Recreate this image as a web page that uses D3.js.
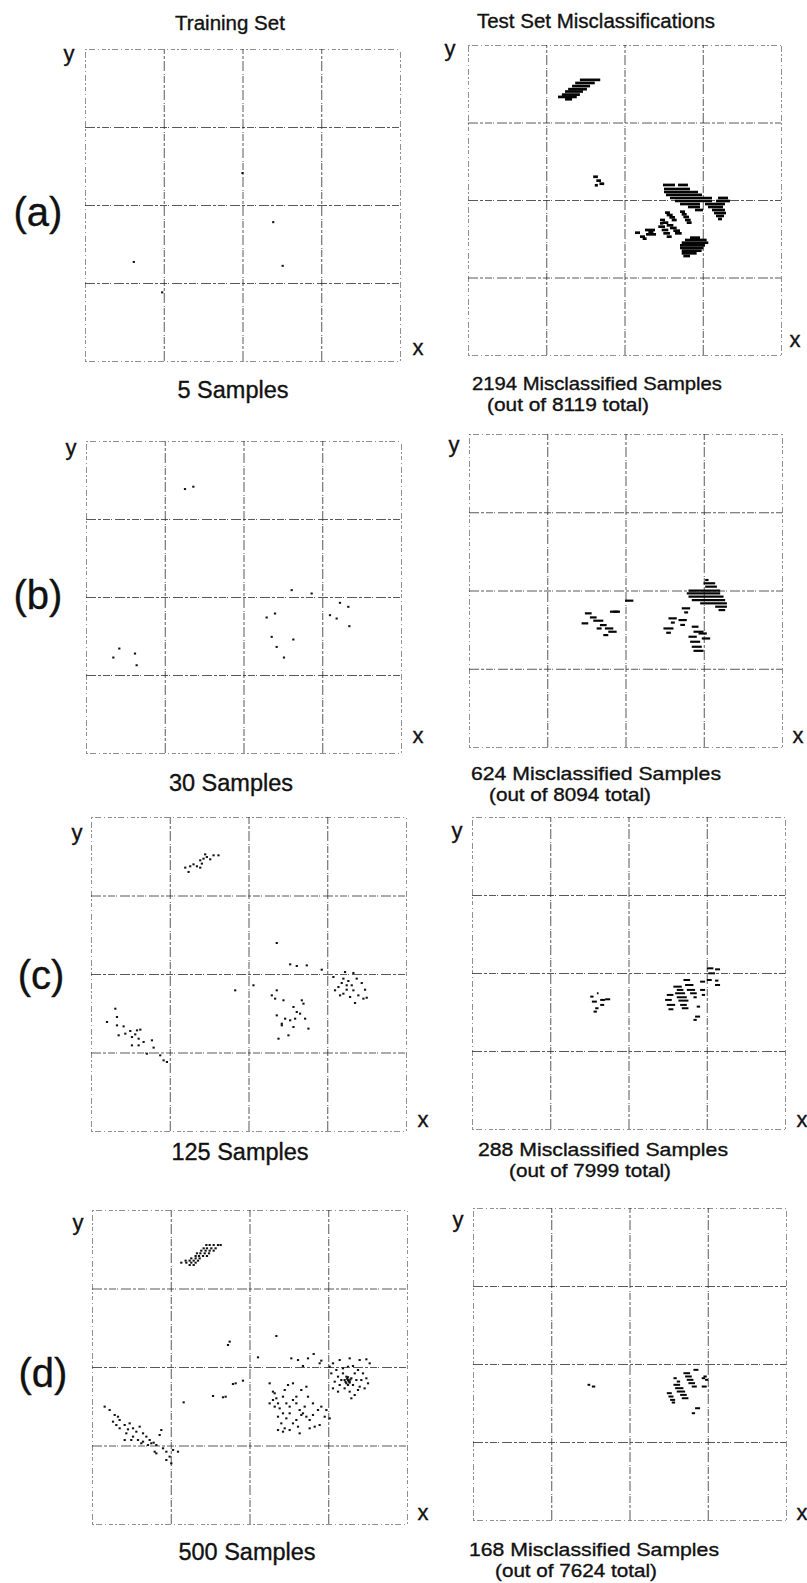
<!DOCTYPE html>
<html>
<head>
<meta charset="utf-8">
<script src="https://cdn.jsdelivr.net/npm/d3@7"></script>
<style>
  body { margin: 0; background: #fff; }
  text { font-family: "Liberation Sans", Arial, Helvetica, sans-serif; fill: #111; stroke: #111; stroke-width: 0.35px; }
</style>
</head>
<body>
<svg id="fig" width="807" height="1583"></svg>
<script>
// Training sets and test-set misclassifications, 4 runs (a)-(d).
// Coordinates are in grid units: 4x4 cells, origin bottom-left.

var rowLabels = ["(a)", "(b)", "(c)", "(d)"];
var columnTitles = ["Training Set", "Test Set Misclassifications"];
var trainingCounts = [5, 30, 125, 500];
var misclassifiedCounts = [2194, 624, 288, 168];
var testTotals = [8119, 8094, 7999, 7624];
var gridTicks = [0, 1, 2, 3, 4];

// training samples, [x, y]
var trainA = [[2.39,1.78],[0.62,1.27],[2.51,1.22],[2.00,2.41],[0.98,0.88]];

var trainB = [
  [1.257,3.384],[1.363,3.414],
  [2.612,2.088],[2.865,2.045],
  [2.294,1.737],[2.400,1.788],[2.358,1.489],[2.633,1.455],[2.421,1.360],[2.514,1.224],
  [3.098,1.767],[3.183,1.724],[3.344,1.626],[3.331,1.874],[3.225,1.925],
  [0.347,1.224],[0.423,1.339],[0.622,1.275],[0.643,1.125]
];

var trainC = [
  [1.197,3.355],[1.239,3.300],[1.260,3.372],[1.302,3.397],[1.345,3.372],[1.387,3.448],[1.429,3.469],
  [1.471,3.490],[1.514,3.461],[1.556,3.512],[1.619,3.512],[1.387,3.355],[1.408,3.406],[1.450,3.524],
  [2.359,2.395],[2.529,2.123],[2.613,2.102],[2.740,2.110],[2.930,2.055],[1.831,1.792],[2.063,1.856],
  [2.296,1.728],[2.359,1.792],[2.338,1.686],[2.444,1.665],[2.359,1.473],[2.423,1.367],[2.465,1.431],
  [2.571,1.580],[2.613,1.516],[2.592,1.431],[2.529,1.410],[2.655,1.495],[2.719,1.431],[2.698,1.622],
  [2.761,1.304],[2.381,1.176],[2.507,1.219],[2.423,1.346],[2.571,1.325],[2.677,1.665],
  [3.226,2.025],[3.332,2.013],[3.205,1.941],[3.184,1.885],[3.268,1.911],[3.311,1.856],[3.142,1.834],
  [3.247,1.800],[3.099,1.792],[3.205,1.749],[3.332,1.792],[3.395,1.728],[3.480,1.800],[3.501,1.698],
  [3.353,1.631],[3.438,1.885],[3.290,1.707],[3.163,1.728],[3.247,1.856],[3.374,1.941],[3.078,1.962],
  [3.459,1.686],
  [0.309,1.558],[0.330,1.452],[0.330,1.346],[0.414,1.333],[0.203,1.389],[0.351,1.219],[0.499,1.274],
  [0.520,1.197],[0.562,1.231],[0.584,1.282],[0.605,1.176],[0.626,1.291],[0.668,1.134],[0.710,0.985],
  [0.774,1.155],[0.795,1.062],[0.879,0.964],[0.964,0.879],[0.922,0.900],[0.520,1.091],[0.605,1.091],
  [0.436,1.240]
];

var trainD = [
  [1.452,3.554],[1.494,3.554],[1.545,3.554],[1.600,3.554],[1.634,3.554],
  [1.418,3.512],[1.460,3.512],[1.515,3.512],[1.570,3.512],
  [1.388,3.482],[1.443,3.482],[1.494,3.482],[1.545,3.482],
  [1.333,3.448],[1.376,3.448],[1.431,3.448],[1.486,3.448],
  [1.316,3.414],[1.359,3.414],[1.410,3.414],[1.460,3.414],
  [1.261,3.384],[1.316,3.384],[1.367,3.384],
  [1.189,3.355],[1.240,3.355],[1.291,3.355],[1.346,3.355],
  [1.134,3.329],[1.198,3.329],[1.261,3.329],[1.316,3.329],
  [1.240,3.299],[1.291,3.299],
  [1.748,2.323],[1.727,2.280],[2.341,2.395],[1.790,1.783],[1.824,1.792],[1.917,1.826],[1.537,1.631],
  [1.663,1.614],[1.697,1.622],[1.164,1.550],[2.108,2.123],[2.531,2.110],[2.616,2.089],[2.743,2.110],
  [2.815,2.166],[2.679,2.013],[2.891,2.047],[2.912,2.081],
  [0.161,1.495],[0.224,1.452],[0.288,1.389],[0.330,1.367],[0.267,1.304],[0.351,1.325],[0.415,1.261],
  [0.478,1.282],[0.457,1.206],[0.521,1.219],[0.563,1.176],[0.605,1.240],[0.648,1.155],[0.690,1.113],
  [0.732,1.070],[0.753,1.028],[0.783,1.036],[0.817,1.006],[0.711,1.006],[0.648,1.049],[0.584,1.070],
  [0.521,1.113],[0.436,1.155],[0.859,1.134],[0.880,1.197],[0.902,0.964],[0.944,0.921],[0.986,0.858],
  [1.029,0.943],[1.092,0.921],[0.817,0.900],[0.796,0.921],[0.944,0.815],[1.007,0.773],[0.626,1.028],
  [0.351,1.219],[0.499,1.070],[0.415,1.070],[0.309,1.261],
  [2.256,1.792],[2.320,1.665],[2.341,1.601],[2.362,1.537],[2.298,1.580],[2.383,1.473],[2.425,1.410],
  [2.468,1.346],[2.404,1.282],[2.362,1.367],[2.510,1.495],[2.552,1.580],[2.595,1.537],[2.637,1.452],
  [2.679,1.410],[2.722,1.367],[2.764,1.325],[2.806,1.389],[2.870,1.452],[2.912,1.495],[2.955,1.367],
  [2.891,1.261],[2.828,1.240],[2.764,1.219],[2.637,1.155],[2.510,1.197],[2.447,1.219],[2.552,1.282],
  [2.595,1.325],[2.658,1.707],[2.722,1.749],[2.743,1.622],[2.806,1.537],[2.552,1.792],[2.489,1.771],
  [2.425,1.622],[2.468,1.537],[2.320,1.495],[2.256,1.537],[2.362,1.197],[2.425,1.176],[2.616,1.240],
  [2.701,1.495],[2.976,1.452],[3.018,1.346],[2.510,1.410],[2.298,1.686],[2.447,1.707],[2.595,1.622],
  [2.658,1.389],
  [3.060,2.047],[3.145,2.089],[3.272,2.110],[3.399,2.089],[3.484,2.098],[3.526,2.047],[3.039,1.919],
  [3.103,1.962],[3.187,1.983],[3.251,2.004],[3.314,2.013],[3.378,1.962],[3.441,1.919],[3.484,1.856],
  [3.505,1.792],[3.462,1.728],[3.399,1.749],[3.336,1.643],[3.272,1.686],[3.208,1.728],[3.145,1.771],
  [3.082,1.813],[3.060,1.728],[3.124,1.686],[3.230,1.877],[3.251,1.834],[3.272,1.813],[3.230,1.792],
  [3.208,1.834],[3.293,1.856],[3.187,1.919],[3.314,1.771],[3.251,1.771],[3.166,1.834],[3.357,1.834],
  [3.336,1.919],[3.420,1.834],[3.293,1.601],[3.378,1.707],[3.018,2.004],[3.124,1.877],
  [3.24,1.85],[3.26,1.82],[3.22,1.81],[3.28,1.84],[3.25,1.87],[3.27,1.80]
];

// misclassified test samples, drawn as the horizontal streaks they form: [x0, x1, y]
var testA = [
  [1.43,1.69,3.55],[1.37,1.62,3.51],[1.33,1.56,3.47],[1.28,1.52,3.43],
  [1.24,1.47,3.40],[1.20,1.43,3.36],[1.15,1.39,3.33],[1.24,1.33,3.30],
  [1.60,1.66,2.30],[1.64,1.70,2.25],[1.68,1.74,2.21],[1.62,1.66,2.19],
  [2.492,2.645,2.194],[2.684,2.811,2.194],
  [2.505,2.837,2.142],[2.505,2.939,2.103],[2.530,2.990,2.065],
  [2.581,3.118,2.026],[3.195,3.323,2.026],
  [2.645,3.118,1.987],[3.169,3.348,1.987],
  [2.709,2.965,1.948],[3.029,3.284,1.948],
  [2.811,2.965,1.910],[3.067,3.259,1.910],
  [2.901,3.003,1.871],[3.118,3.284,1.871],
  [3.144,3.297,1.832],[3.169,3.272,1.794],[3.195,3.246,1.755],
  [2.518,2.581,1.837],[2.539,2.616,1.806],[2.573,2.645,1.776],[2.603,2.667,1.742],
  [2.709,2.773,1.849],[2.731,2.795,1.815],[2.752,2.824,1.781],[2.773,2.846,1.742],[2.795,2.858,1.708],
  [2.454,2.518,1.742],[2.488,2.560,1.708],[2.539,2.624,1.673],[2.581,2.667,1.639],[2.624,2.709,1.604],
  [2.645,2.731,1.570],
  [2.454,2.496,1.699],[2.432,2.518,1.656],[2.475,2.560,1.613],[2.496,2.581,1.570],[2.539,2.603,1.527],
  [2.262,2.390,1.613],[2.305,2.369,1.587],[2.275,2.403,1.557],
  [2.134,2.198,1.578],[2.198,2.262,1.527],[2.232,2.283,1.501],
  [2.837,2.965,1.514],[2.773,3.050,1.484],[2.731,3.071,1.449],[2.709,3.029,1.415],
  [2.709,3.007,1.381],[2.731,2.986,1.346],[2.731,2.922,1.312],[2.752,2.837,1.277]
];

var testB = [
  [3.018,3.061,2.134],[2.997,3.146,2.092],[3.018,3.168,2.049],[2.805,3.210,1.998],[2.783,3.210,1.964],
  [2.805,3.253,1.921],[2.847,3.274,1.878],[2.954,3.296,1.836],[3.146,3.296,1.793],[3.189,3.274,1.750],
  [2.719,2.826,1.772],[2.750,2.800,1.720],
  [2.549,2.655,1.644],[2.580,2.630,1.590],
  [2.677,2.783,1.622],[2.700,2.760,1.560],
  [2.485,2.613,1.515],[2.520,2.580,1.460],
  [2.847,2.933,1.537],[2.869,2.997,1.473],[2.805,2.911,1.409],[2.826,2.954,1.345],
  [2.847,2.975,1.281],[2.869,2.997,1.229],[2.975,3.082,1.387],[2.933,3.039,1.451],
  [1.994,2.100,1.870],[1.801,1.930,1.729],[1.481,1.567,1.708],[1.545,1.631,1.656],
  [1.588,1.716,1.614],[1.673,1.759,1.558],[1.737,1.844,1.515],[1.780,1.887,1.473],
  [1.631,1.695,1.515],[1.439,1.524,1.580],[1.716,1.780,1.430],[1.844,1.908,1.729]
];

var testC = [
  [1.511,1.553,1.697],[1.596,1.617,1.740],[1.532,1.596,1.633],[1.638,1.702,1.655],
  [1.702,1.766,1.663],[1.574,1.617,1.548],[1.638,1.689,1.591],[1.553,1.596,1.505],
  [3.000,3.085,2.060],[3.106,3.170,2.047],[3.021,3.106,1.996],[3.000,3.064,1.910],
  [3.106,3.149,1.902],[3.106,3.170,1.846],
  [2.702,2.787,1.910],[2.723,2.830,1.846],[2.745,2.851,1.783],[2.787,2.872,1.740],[2.830,2.872,1.689],
  [2.574,2.681,1.825],[2.617,2.702,1.783],[2.596,2.723,1.740],[2.617,2.745,1.689],[2.638,2.766,1.646],
  [2.660,2.745,1.591],[2.681,2.766,1.548],
  [2.489,2.574,1.719],[2.468,2.553,1.655],[2.489,2.596,1.591],[2.511,2.574,1.535],
  [2.915,2.979,1.783],[2.936,2.979,1.719],[2.851,2.915,1.441],[2.830,2.872,1.399],
  [2.872,2.915,1.569],[2.915,2.979,1.889]
];

var testD = [
  [1.464,1.498,1.733],[1.519,1.562,1.711],
  [2.562,2.604,1.818],[2.604,2.647,1.775],[2.689,2.774,1.882],[2.711,2.796,1.840],
  [2.732,2.817,1.797],[2.753,2.838,1.754],[2.796,2.860,1.711],[2.562,2.647,1.733],
  [2.583,2.689,1.690],[2.604,2.711,1.647],[2.647,2.732,1.604],[2.668,2.753,1.561],
  [2.477,2.540,1.626],[2.498,2.562,1.583],[2.519,2.583,1.540],[2.540,2.583,1.506],
  [2.838,2.902,1.433],[2.796,2.838,1.369],[2.923,2.966,1.818],[2.923,2.987,1.711],
  [2.966,3.009,1.797],[2.817,2.881,1.925],[2.945,2.987,1.840]
];

var trainSets = [trainA, trainB, trainC, trainD];
var testSets = [testA, testB, testC, testD];

// layout of the scanned page: panel boxes [left, top, right, bottom]
var leftBoxes = [[85,49,400,361],[86,441,401,753],[91,817,406,1131],[92,1210,407,1524]];
var rightBoxes = [[468,45,781,355],[469,434,782,747],[472,817,785,1129],[473,1208,786,1520]];
var streakWidth = [2.7, 2.2, 2.0, 2.0];

var svg = d3.select("#fig");
svg.append("rect").attr("width", 807).attr("height", 1583).attr("fill", "#fff");

function drawPanel(box, marks, kind, weight) {
    var l = box[0], t = box[1], r = box[2], b = box[3];
    var x = d3.scaleLinear().domain([0, 4]).range([l, r]);
    var y = d3.scaleLinear().domain([0, 4]).range([b, t]);
    var g = svg.append("g");

    // the 4x4 grid (and frame) comes from the axes' tick lines
    g.append("g").attr("transform", "translate(0," + b + ")")
        .call(d3.axisBottom(x).tickValues(gridTicks).tickSize(-(b - t)).tickFormat(""));
    g.append("g").attr("transform", "translate(" + l + ",0)")
        .call(d3.axisLeft(y).tickValues(gridTicks).tickSize(-(r - l)).tickFormat(""));
    g.selectAll(".domain").remove();
    g.selectAll(".tick line")
        .attr("stroke", "#222")
        .attr("stroke-width", 1)
        .attr("stroke-dasharray", function (d) {
            return (d === 0 || d === 4) ? "2,2,6,3,1,3,4,2" : "10,2,3,2,7,1,1,3";
        })
        .attr("opacity", function (d) { return (d === 0 || d === 4) ? 0.5 : 0.75; });

    if (kind === "train") {
        g.selectAll("rect.pt").data(marks).join("rect")
            .attr("class", "pt")
            .attr("x", function (d) { return x(d[0]) - 1.1; })
            .attr("y", function (d) { return y(d[1]) - 1; })
            .attr("width", 2.2).attr("height", 2)
            .attr("fill", "#111");
    } else {
        g.selectAll("line.seg").data(marks).join("line")
            .attr("class", "seg")
            .attr("x1", function (d) { return x(d[0]); })
            .attr("x2", function (d) { return x(d[1]); })
            .attr("y1", function (d) { return y(d[2]); })
            .attr("y2", function (d) { return y(d[2]); })
            .attr("stroke", "#050505")
            .attr("stroke-width", weight);
    }
}

function label(txt, px, py, size, len) {
    var t = svg.append("text").attr("x", px).attr("y", py)
        .attr("font-size", size).attr("text-anchor", "middle").text(txt);
    if (len) t.attr("textLength", len).attr("lengthAdjust", "spacingAndGlyphs");
    return t;
}

for (var i = 0; i < 4; i++) {
    drawPanel(leftBoxes[i], trainSets[i], "train");
    drawPanel(rightBoxes[i], testSets[i], "test", streakWidth[i]);
}

label(columnTitles[0], 230, 30, 20.5);
label(columnTitles[1], 596, 28, 20.5);

var rowLabelY = [226, 609, 989, 1387];
var rowLabelX = [38, 38, 41, 43];
var yLabL = [[69,61],[71,455],[77,840],[78,1230]];
var yLabR = [[450,56],[454,452],[457,838],[458,1227]];
var xLabL = [[418,355],[418,743],[423,1127],[423,1520]];
var xLabR = [[795,347],[798,743],[802,1127],[802,1520]];
var capL = [[233,398],[231,791],[240,1160],[247,1560]];
var capR = [[597,390],[596,780],[603,1156],[594,1556]];
var capR2 = [[568,411],[570,801],[590,1177],[576,1577]];

for (var k = 0; k < 4; k++) {
    label(rowLabels[k], rowLabelX[k], rowLabelY[k], 40);
    label("y", yLabL[k][0], yLabL[k][1], 22);
    label("y", yLabR[k][0], yLabR[k][1], 22);
    label("x", xLabL[k][0], xLabL[k][1], 22);
    label("x", xLabR[k][0], xLabR[k][1], 22);
    label(trainingCounts[k] + " Samples", capL[k][0], capL[k][1], 23.5);
    label(misclassifiedCounts[k] + " Misclassified Samples", capR[k][0], capR[k][1], 18.5, 250);
    label("(out of " + testTotals[k] + " total)", capR2[k][0], capR2[k][1], 18.5, 162);
}
</script>
</body>
</html>
